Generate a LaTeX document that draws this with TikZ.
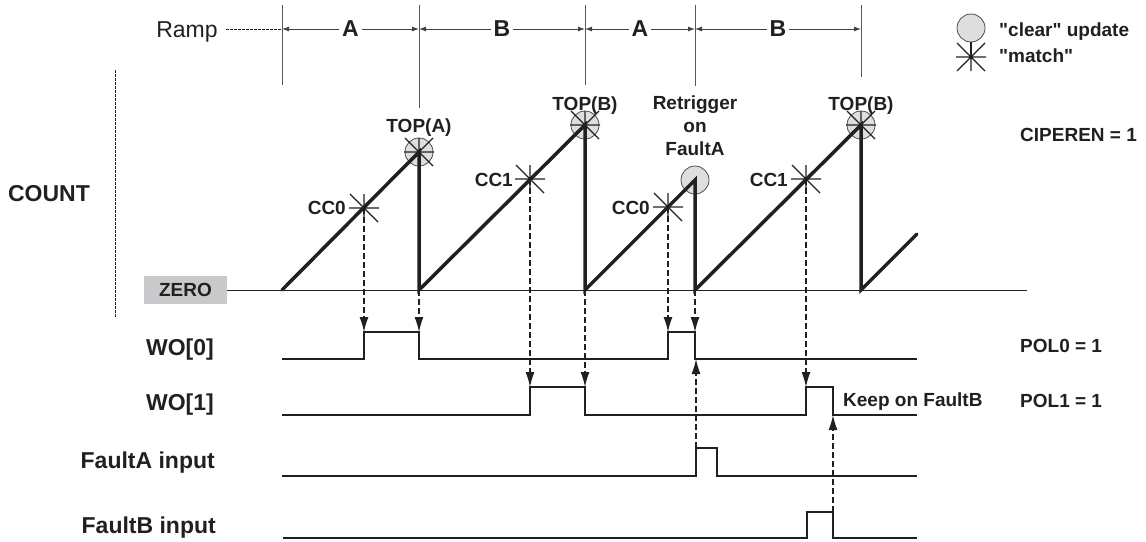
\documentclass[tikz,border=0pt]{standalone}
\usepackage{fontspec}
\setmainfont{Liberation Sans}[Ligatures=TeXOff]
\usetikzlibrary{arrows.meta}

\definecolor{ink}{RGB}{35,31,32}
\definecolor{zerogray}{RGB}{200,201,202}
\definecolor{markgray}{RGB}{221,222,223}

\newcommand{\lblbig}{\fontsize{23}{26}\selectfont\bfseries}
\newcommand{\lblsmall}{\fontsize{19}{23}\selectfont\bfseries}

\tikzset{
  matchmark/.pic={
    \draw[line width=1.1pt] (-15,0) -- (15,0) (0,-14) -- (0,14)
      (-14,-14) -- (14,14) (-14,14) -- (14,-14);
  },
  clearmark/.style={circle, draw=ink!80, fill=markgray, line width=0.8pt,
    minimum size=28pt, inner sep=0pt},
}

\begin{document}
\begin{tikzpicture}[x=1pt, y=-1pt, color=ink,
    every node/.style={font=\lblsmall, text=ink, inner sep=0pt},
    count/.style={line width=3.5pt, line join=miter, line cap=round},
    wave/.style={line width=2.3pt},
    tick/.style={line width=0.9pt, draw=ink!75},
    span/.style={line width=0.9pt, draw=ink!85,
      {Latex[length=7pt,width=5pt]}-{Latex[length=7pt,width=5pt]}},
    guide/.style={line width=1.2pt, dash pattern=on 6pt off 3pt,
      -{Latex[length=15pt,width=9pt]}},
    fine/.style={line width=0.9pt, dash pattern=on 2.5pt off 1.5pt}]
  \useasboundingbox (0,0) rectangle (1146,541);

  % ramp periods
  \node[font=\fontsize{23}{26}\selectfont, anchor=base] (ramp) at (187,37) {Ramp};
  \coordinate (r0) at (282,29);
  \coordinate (r1) at (419,29);
  \coordinate (r2) at (585,29);
  \coordinate (r3) at (695,29);
  \coordinate (r4) at (861,29);
  \draw[fine] (226,29) -- (r0);
  \draw[tick] (282,5) -- (282,85);
  \draw[tick] (419,5) -- (419,108);
  \draw[tick] (585,5) -- (585,85);
  \draw[tick] (695,5) -- (695,86);
  \draw[tick] (861,5) -- (861,77);
  \draw[span] (r0) -- node[fill=white, inner xsep=3pt, font=\lblbig] (pera1) {A} (r1);
  \draw[span] (r1) -- node[fill=white, inner xsep=3pt, font=\lblbig] (perb1) {B} (r2);
  \draw[span] (r2) -- node[fill=white, inner xsep=3pt, font=\lblbig] (pera2) {A} (r3);
  \draw[span] (r3) -- node[fill=white, inner xsep=3pt, font=\lblbig] (perb2) {B} (r4);

  % legend
  \node[clearmark] (lgclear) at (971,28) {};
  \pic at (971,57) {matchmark};
  \draw[line width=1.1pt] (lgclear.south) -- (971,57);
  \node[anchor=base west] (lgcleartxt) at (999,36) {"clear" update};
  \node[anchor=base west] (lgmatchtxt) at (999,62) {"match"};

  % count axis
  \node[font=\lblbig, anchor=base] (count) at (49,201) {COUNT};
  \draw[fine] (115,70) -- (115,318);
  \node[fill=zerogray, minimum width=83pt, minimum height=28pt] (zero) at (185.5,290) {ZERO};
  \coordinate (zeroend) at (1027,290);
  \draw[line width=1pt] (zero.east) -- (zeroend);

  % count events
  \coordinate (topa) at (419,152);
  \coordinate (topb1) at (585,125);
  \coordinate (retrig) at (695,180);
  \coordinate (topb2) at (861,125);
  \coordinate (cc0a) at (364,208);
  \coordinate (cc1a) at (530,179);
  \coordinate (cc0b) at (668,207);
  \coordinate (cc1b) at (806,179);
  \foreach \p in {topa,topb1,retrig,topb2}
    \node[clearmark] (m-\p) at (\p) {};
  \draw[count] (282,290) -- (topa) -- (419,290) -- (topb1) -- (585,290)
    -- (retrig) -- (695,290) -- (topb2) -- (861,290) -- (917,234);
  \foreach \p in {topa,topb1,topb2,cc0a,cc1a,cc0b,cc1b}
    \pic at (\p) {matchmark};

  \node[anchor=base] (lbltopa) at (419,132) {TOP(A)};
  \node[anchor=base] (lbltopb1) at (585,110) {TOP(B)};
  \node[anchor=base] (lbltopb2) at (861,110) {TOP(B)};
  \node[anchor=base] (retr1) at (695,109) {Retrigger};
  \node[anchor=base] (retr2) at (695,132) {on};
  \node[anchor=base] (retr3) at (695,155) {FaultA};
  \node[anchor=base east] (lblcc0a) at (346,214) {CC0};
  \node[anchor=base east] (lblcc1a) at (513,186) {CC1};
  \node[anchor=base east] (lblcc0b) at (650,214) {CC0};
  \node[anchor=base east] (lblcc1b) at (788,186) {CC1};
  \node[anchor=base west] (ciperen) at (1020,141) {CIPEREN = 1};

  % output and fault waveforms
  \node[font=\lblbig, anchor=base east] (wo0) at (214,355) {WO[0]};
  \node[font=\lblbig, anchor=base east] (wo1) at (214,410) {WO[1]};
  \node[font=\lblbig, anchor=base east] (fa) at (215,468) {FaultA input};
  \node[font=\lblbig, anchor=base east] (fb) at (216,533) {FaultB input};

  \draw[wave] (282,359) -| (364,332) -| (419,359) -| (668,332) -| (695,359) -- (917,359);
  \draw[wave] (282,415) -| (530,387) -| (585,415) -| (806,387) -| (833,415) -- (917,415);
  \draw[wave] (282,476) -| (696,448) -| (717,476) -- (917,476);
  \draw[wave] (283,538) -| (807,512) -| (833,538) -- (917,538);

  \node[anchor=base west] (pol0) at (1020,352) {POL0 = 1};
  \node[anchor=base west] (pol1) at (1020,407) {POL1 = 1};
  \node[anchor=base west] (keepb) at (843,406) {Keep on FaultB};

  % event to edge
  \coordinate (wo0up1) at (364,332);
  \coordinate (wo0dn1) at (419,332);
  \coordinate (wo0up2) at (668,332);
  \coordinate (wo0dn2) at (695,332);
  \coordinate (wo1up1) at (530,387);
  \coordinate (wo1dn1) at (585,387);
  \coordinate (wo1up2) at (806,387);
  \draw[guide] (cc0a) -- (wo0up1);
  \draw[guide] (419,290) -- (wo0dn1);
  \draw[guide] (cc1a) -- (wo1up1);
  \draw[guide] (585,290) -- (wo1dn1);
  \draw[guide] (cc0b) -- (wo0up2);
  \draw[guide] (695,290) -- (wo0dn2);
  \draw[guide] (cc1b) -- (wo1up2);
  % fault to edge
  \coordinate (farise) at (696,448);
  \coordinate (fbfall) at (833,512);
  \draw[guide] (farise) -- (696,359);
  \draw[guide] (fbfall) -- (833,415);
\end{tikzpicture}
\end{document}
